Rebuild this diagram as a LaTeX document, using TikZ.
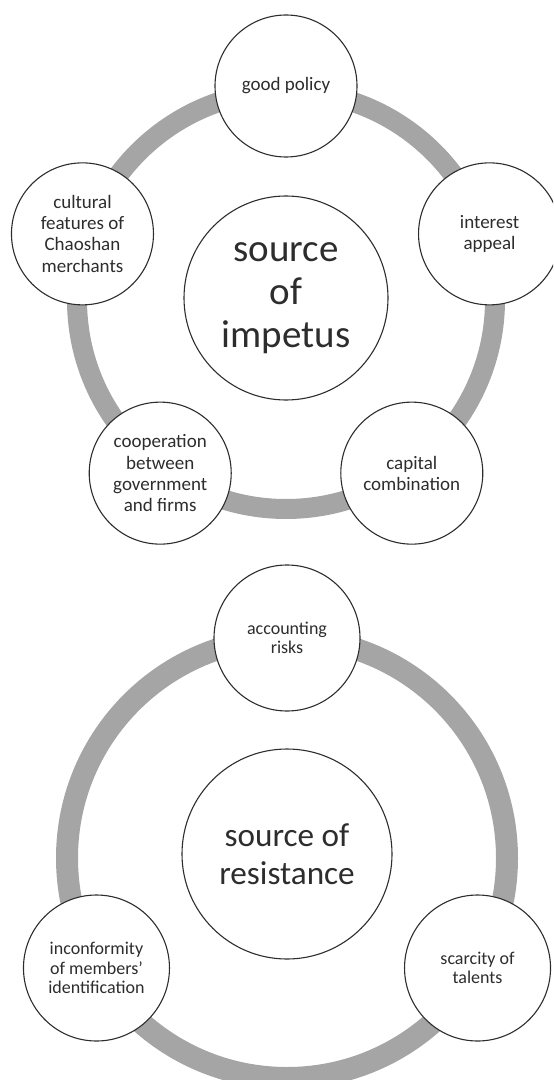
\documentclass[tikz,border=0pt]{standalone}
\usepackage{fontspec}
\setmainfont{Carlito}
\definecolor{ringgray}{RGB}{165,165,165}
\definecolor{inkgray}{RGB}{45,45,45}
\begin{document}
\begin{tikzpicture}
[x=0.5pt, y=0.5pt, text=inkgray]
\tikzstyle{ring}=[draw=ringgray]
\tikzstyle{bubble}=[circle, draw=inkgray, line width=0.55pt, fill=white, inner sep=0pt, align=center]
\tikzstyle{small}=[bubble, minimum size=71pt, font=\fontsize{9.5}{10.6}\selectfont]
\tikzstyle{big}=[bubble, minimum size=102pt, font=\fontsize{19.5}{21.5}\selectfont]
\tikzstyle{smallb}=[bubble, minimum size=73pt, font=\fontsize{9}{9.6}\selectfont]
\tikzstyle{bigb}=[bubble, minimum size=105pt, font=\fontsize{16.6}{19}\selectfont]

\useasboundingbox (0,0) rectangle (553,-1080);
\clip (0,0) rectangle (553,-1080);

% impetus
\coordinate	(IC)	at (286,-300);
\draw [ring, line width=10pt] (IC) circle [radius=104.5pt];
\node[big]	(IMP)	at (286,-298)	{source\\of\\impetus};
\node[small]	(I1)	at ([shift={(90:214)}]IC)	{good policy};
\node[small]	(I2)	at ([shift={(18:214)}]IC)	{interest\\appeal};
\node[small]	(I3)	at ([shift={(-54:214)}]IC)	{capital\\combination};
\node[small]	(I4)	at ([shift={(-126:214)}]IC)	{cooperation\\between\\government\\and firms};
\node[small]	(I5)	at ([shift={(162:214)}]IC)	{cultural\\features of\\Chaoshan\\merchants};

% resistance
\coordinate	(RC)	at (287,-858);
\draw [ring, line width=11pt] (RC) circle [radius=110pt];
\node[bigb]	(RES)	at (287,-854)	{source of\\resistance};
\node[smallb]	(R1)	at ([shift={(90:220)}]RC)	{accounting\\risks};
\node[smallb]	(R2)	at ([shift={(-30:220)}]RC)	{scarcity of\\talents};
\node[smallb]	(R3)	at ([shift={(210:220)}]RC)	{inconformity\\of members'\\identification};

\end{tikzpicture}
\end{document}
